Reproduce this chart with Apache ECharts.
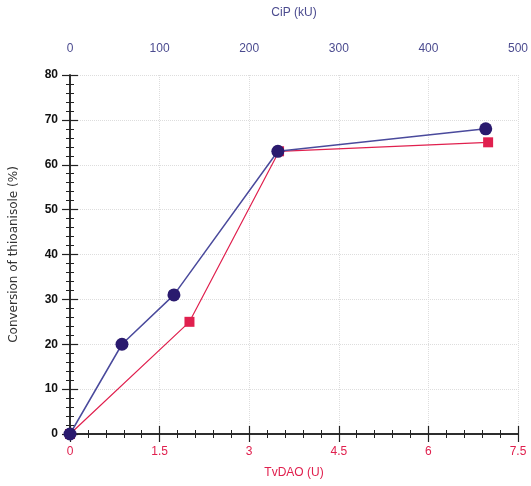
<!DOCTYPE html>
<html>
<head>
<meta charset="utf-8">
<script src="https://cdn.jsdelivr.net/npm/echarts@6/dist/echarts.min.js"></script>
<style>
  html, body { margin: 0; padding: 0; background: #fff; }
  #chart { width: 531px; height: 486px; }
</style>
</head>
<body>
<div id="chart"></div>
<script>
// CiP (kU) on the top axis, blue circles
var cipUnits = [0, 58, 116, 232, 464];
var cipConv = [0, 20, 31, 63, 68];
// TvDAO (U) on the bottom axis, red squares
var tvdaoUnits = [0, 2.0, 3.5, 7.0];
var tvdaoConv = [0, 25, 63, 65];

var blue = '#2a1a6e';
var blueLine = '#4a4a9c';
var red = '#e0204e';
var narrow = 'Liberation Sans Narrow, Arial Narrow, Arial, sans-serif';

var chart = echarts.init(document.getElementById('chart'));

// ticks point into the plot, minor ticks too (negative length flips them)
var tickStyle = { show: true, inside: true, length: 8, lineStyle: { color: '#222', width: 1.2 } };
var minorStyle = { show: true, splitNumber: 5, length: -4, lineStyle: { color: '#222', width: 1 } };

var option = {
  animation: false,
  grid: { left: 68, right: 10, top: 75, bottom: 52 },
  xAxis: [
    {
      type: 'value', position: 'bottom', min: 0, max: 7.5, interval: 1.5,
      name: 'TvDAO (U)', nameLocation: 'middle', nameGap: 33,
      nameTextStyle: { color: red, fontSize: 12, fontFamily: narrow },
      axisLine: { show: true, lineStyle: { color: '#222', width: 1.5 } },
      axisTick: tickStyle, minorTick: minorStyle,
      axisLabel: { color: red, margin: 12, fontSize: 12, fontFamily: narrow },
      splitLine: { show: true, lineStyle: { color: '#ddd', type: 'dotted' } }
    },
    {
      type: 'value', position: 'top', min: 0, max: 500, interval: 100,
      name: 'CiP (kU)', nameLocation: 'middle', nameGap: 56,
      nameTextStyle: { color: '#4b4b8f', fontSize: 12, fontFamily: narrow },
      axisLine: { show: true, lineStyle: { color: '#222', width: 1.5 } },
      axisTick: tickStyle, minorTick: minorStyle,
      axisLabel: { color: '#4b4b8f', margin: 20, fontSize: 12, fontFamily: narrow },
      splitLine: { show: false }
    }
  ],
  yAxis: [
    {
      type: 'value', position: 'left', min: 0, max: 80, interval: 10,
      name: 'Conversion of thioanisole (%)', nameLocation: 'middle', nameGap: 50,
      nameTextStyle: { color: '#333', fontSize: 12, fontFamily: 'DejaVu Sans, sans-serif' },
      axisLine: { show: true, lineStyle: { color: '#222', width: 1.5 } },
      axisTick: tickStyle, minorTick: minorStyle,
      axisLabel: { color: '#111', margin: 12, fontSize: 12, fontWeight: 'bold', fontFamily: narrow },
      splitLine: { show: true, lineStyle: { color: '#ddd', type: 'dotted' } }
    },
    {
      type: 'value', position: 'right', min: 0, max: 80, interval: 10,
      axisLine: { show: true, lineStyle: { color: '#222', width: 1.5 } },
      axisTick: tickStyle, minorTick: minorStyle,
      axisLabel: { show: false },
      splitLine: { show: false }
    }
  ],
  series: [
    {
      name: 'TvDAO', type: 'line', xAxisIndex: 0, yAxisIndex: 0,
      data: tvdaoUnits.map(function (u, i) { return [u, tvdaoConv[i]]; }),
      symbol: 'rect', symbolSize: 10,
      lineStyle: { color: red, width: 1.2 },
      itemStyle: { color: red }
    },
    {
      name: 'CiP', type: 'line', xAxisIndex: 1, yAxisIndex: 0,
      data: cipUnits.map(function (u, i) { return [u, cipConv[i]]; }),
      symbol: 'circle', symbolSize: 13,
      lineStyle: { color: blueLine, width: 1.5 },
      itemStyle: { color: blue }
    }
  ]
};
chart.setOption(option);
</script>
</body>
</html>
